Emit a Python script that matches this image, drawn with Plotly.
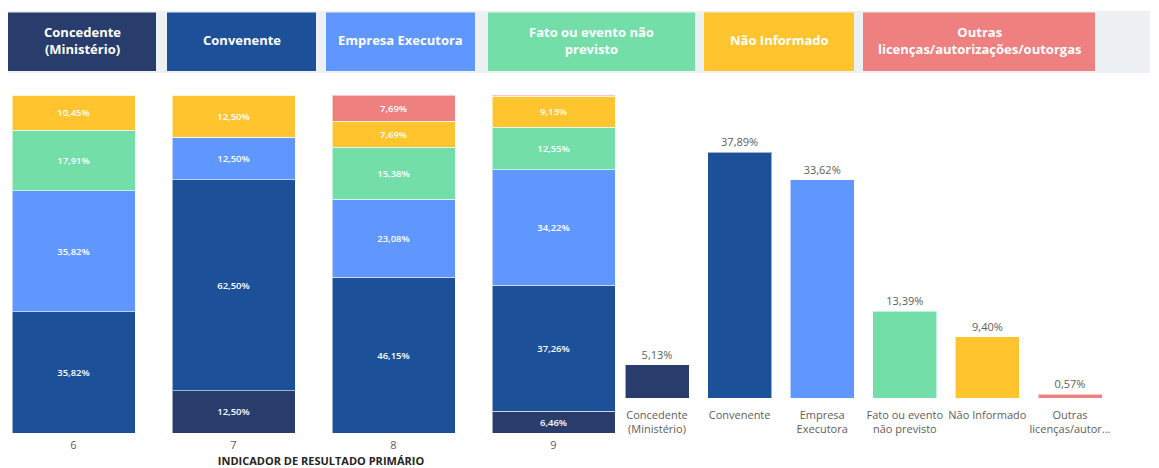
import plotly.graph_objects as go

# ---------------- data ----------------
categories = ["Concedente (Ministério)", "Convenente", "Empresa Executora",
              "Fato ou evento não previsto", "Não Informado",
              "Outras licenças/autorizações/outorgas"]
legend_labels = ["Concedente<br>(Ministério)", "Convenente", "Empresa Executora",
                 "Fato ou evento não<br>previsto", "Não Informado",
                 "Outras<br>licenças/autorizações/outorgas"]
colors = ["#283D6B", "#1C5099", "#5F97FF", "#74DEA9", "#FFC42E", "#EE8080"]

indicadores = ["6", "7", "8", "9"]
stack_concedente = [0, 12.50, 0, 6.46]
stack_convenente = [35.82, 62.50, 46.15, 37.26]
stack_empresa = [35.82, 12.50, 23.08, 34.22]
stack_fato = [17.91, 0, 15.38, 12.55]
stack_nao_inf = [10.45, 12.50, 7.69, 9.13]
stack_outras = [0, 0, 7.69, 0.38]
stack_series = [stack_concedente, stack_convenente, stack_empresa,
                stack_fato, stack_nao_inf, stack_outras]

total_labels = ["Concedente<br>(Ministério)", "Convenente", "Empresa<br>Executora",
                "Fato ou evento<br>não previsto", "Não Informado",
                "Outras<br>licenças/autor..."]
total_values = [5.13, 37.89, 33.62, 13.39, 9.40, 0.57]

# page is offset by the default 8px body margin
OFF = 8
W, H = 1159 - OFF, 468 - OFF
FONT = "Open Sans"


def fmt(v):
    return f"{v:.2f}".replace(".", ",") + "%"


def px_x(p):
    return (p - OFF) / W


def px_y(p):
    return 1 - (p - OFF) / H


fig = go.Figure()

# stacked bars
for name, color, vals in zip(categories, colors, stack_series):
    texts = [fmt(v) if v >= 3 else "" for v in vals]
    fig.add_trace(go.Bar(
        x=indicadores, y=vals, name=name, marker_color=color,
        marker_line=dict(color="rgba(255,255,255,0.55)", width=1),
        text=texts, textposition="inside", insidetextanchor="middle",
        textangle=0, constraintext="none",
        textfont=dict(color="white", size=9.5, family=FONT, weight=600),
        xaxis="x", yaxis="y", showlegend=False, hoverinfo="x+y+name"))

# totals bar chart
fig.add_trace(go.Bar(
    x=total_labels, y=total_values, marker_color=colors,
    marker_line=dict(color="rgba(255,255,255,0.55)", width=1),
    text=[fmt(v) for v in total_values], textposition="outside",
    cliponaxis=False, textangle=0,
    textfont=dict(color="#605E5C", size=11, family=FONT),
    xaxis="x2", yaxis="y2", showlegend=False))

# axes geometry (page pixels)
left_dom = [OFF, 634]
step1 = 160.0
x0_1 = (left_dom[0] - 73.5) / step1
x1_1 = x0_1 + (left_dom[1] - left_dom[0]) / step1

right_dom = [616, 1159]
step2 = 82.6
x0_2 = -(657 - 616) / step2
x1_2 = x0_2 + (right_dom[1] - right_dom[0]) / step2

pxper = 6.49
top2 = (398 - 95) / pxper

fig.update_layout(
    width=W, height=H, margin=dict(l=0, r=0, t=0, b=0),
    paper_bgcolor="white", plot_bgcolor="white",
    barmode="stack",
    font=dict(family=FONT, color="#605E5C"),
    xaxis=dict(domain=[px_x(left_dom[0]), px_x(left_dom[1])], type="category",
               range=[x0_1, x1_1], showgrid=False, zeroline=False, showline=False,
               tickfont=dict(size=11, color="#605E5C"), ticks="",
               ticklabelstandoff=4,
               title=dict(text="INDICADOR DE RESULTADO PRIMÁRIO", standoff=8,
                          font=dict(size=11, color="#252423", weight="bold"))),
    yaxis=dict(domain=[px_y(433), px_y(95)], range=[0, 100], visible=False),
    xaxis2=dict(domain=[px_x(right_dom[0]), px_x(right_dom[1])], type="category",
                range=[x0_2, x1_2], anchor="y2", showgrid=False, zeroline=False,
                showline=False, ticks="", ticklabelstandoff=9,
                tickfont=dict(size=11, color="#605E5C")),
    yaxis2=dict(domain=[px_y(398), px_y(95)], range=[0, top2], visible=False,
                anchor="x2"),
    bargap=1 - 123 / 160,
    showlegend=False,
)
fig.data[-1].width = 64 / step2

# header legend-like boxes
shapes = [dict(type="rect", xref="paper", yref="paper",
               x0=px_x(8), x1=px_x(1150), y0=px_y(73), y1=px_y(11),
               fillcolor="#EEF1F3", line=dict(width=0), layer="below")]
boxes = [(8, 156), (167, 316), (326, 475), (488, 695), (704, 854), (863, 1095)]
annotations = []
for (a, b), color, lab in zip(boxes, colors, legend_labels):
    shapes.append(dict(type="rect", xref="paper", yref="paper",
                       x0=px_x(a), x1=px_x(b), y0=px_y(71), y1=px_y(12.5),
                       fillcolor=color, line=dict(width=0)))
    annotations.append(dict(xref="paper", yref="paper", x=px_x((a + b) / 2),
                            y=px_y(40), text=lab, showarrow=False,
                            xanchor="center", yanchor="middle",
                            font=dict(color="white", size=13, family=FONT,
                                      weight="bold")))
fig.update_layout(shapes=shapes, annotations=annotations)

fig.write_html("out.html")
